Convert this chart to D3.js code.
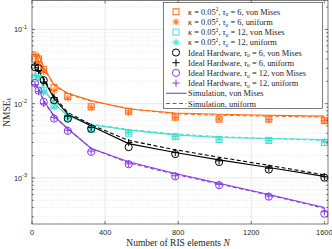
<!DOCTYPE html>
<html>
<head>
<meta charset="utf-8">
<script src="https://cdn.jsdelivr.net/npm/d3@7"></script>
<style>
  body { margin: 0; background: #fff; }
  svg { display: block; }
  .tick-label { font-family: "Liberation Sans", Arial, sans-serif; font-size: 7.4px; fill: #262626; }
  .serif { font-family: "Liberation Serif", "Times New Roman", serif; fill: #262626; }
</style>
</head>
<body>
<svg width="332" height="249"></svg>
<script>
// number of RIS elements
const N = [16, 36, 64, 121, 196, 324, 529, 784, 1024, 1296, 1600]

// analytical markers
const orangeVmMarks  = [0.040, 0.040, 0.029, 0.0166, 0.0125, 0.0091, 0.0079, 0.0066, 0.0062, 0.0062, 0.0059]
const orangeUniMarks = [0.046, 0.036, 0.027, 0.0150, 0.0119, 0.0089, 0.0077, 0.0065, 0.0062, 0.0061, 0.0059]
const cyanVmMarks    = [0.022, 0.0255, 0.0152, 0.0095, 0.0065, 0.0045, 0.0040, 0.0036, 0.0033, 0.0032, 0.0030]
const cyanUniMarks   = [0.024, 0.023, 0.0140, 0.0090, 0.0063, 0.0046, 0.0041, 0.0036, 0.0033, 0.0032, 0.0031]
const blackVmMarks   = [0.031, 0.030, 0.0207, 0.0111, 0.0063, 0.0046, 0.0026, 0.0021, 0.00164, 0.0013, 0.00101]
const blackUniMarks  = [0.033, 0.028, 0.0195, 0.0120, 0.0068, 0.0048, 0.0030, 0.0022, 0.0017, 0.00135, 0.00104]
const purpleVmMarks  = [0.019, 0.015, 0.0106, 0.0063, 0.0043, 0.00224, 0.00153, 0.00105, 0.0008, 0.00056, 0.00033]
const purpleUniMarks = [0.018, 0.0145, 0.0100, 0.0065, 0.0044, 0.0023, 0.00155, 0.00107, 0.00082, 0.00057, 0.00035]

// simulation curves
const orangeVmSim  = [0.036, 0.047, 0.031, 0.0180, 0.0138, 0.0110, 0.0085, 0.0075, 0.0072, 0.0070, 0.0068]
const orangeUniSim = [0.038, 0.045, 0.030, 0.0175, 0.0135, 0.0108, 0.0086, 0.0073, 0.0070, 0.0068, 0.0066]
const cyanVmSim    = [0.021, 0.025, 0.0160, 0.0100, 0.0068, 0.0052, 0.0044, 0.0038, 0.0035, 0.0034, 0.0033]
const cyanUniSim   = [0.022, 0.024, 0.0155, 0.0098, 0.0070, 0.0053, 0.0045, 0.0039, 0.0036, 0.0034, 0.0032]
const blackVmSim   = [0.029, 0.028, 0.021, 0.0118, 0.0072, 0.0050, 0.0029, 0.0022, 0.00175, 0.00138, 0.00105]
const blackUniSim  = [0.031, 0.030, 0.022, 0.0125, 0.0076, 0.0052, 0.0032, 0.0024, 0.0019, 0.00148, 0.00110]
const purpleVmSim  = [0.018, 0.016, 0.0110, 0.0068, 0.0046, 0.0025, 0.00165, 0.00115, 0.00085, 0.00060, 0.00040]
const purpleUniSim = [0.0185, 0.0158, 0.0108, 0.0067, 0.0046, 0.0025, 0.00160, 0.00112, 0.00083, 0.00059, 0.00039]

const xTicks = [0, 400, 800, 1200, 1600]
const yTicks = [1e-3, 1e-2, 1e-1]
const yTickExp = ["-3", "-2", "-1"]

const legendLabels = [
    ["κ", " = 0.05", "2", ", ", "τ", "u", " = 6, von Mises"],
    ["κ", " = 0.05", "2", ", ", "τ", "u", " = 6, uniform"],
    ["κ", " = 0.05", "2", ", ", "τ", "u", " = 12, von Mises"],
    ["κ", " = 0.05", "2", ", ", "τ", "u", " = 12, uniform"],
    ["", "Ideal Hardware", "", ", ", "τ", "u", " = 6, von Mises"],
    ["", "Ideal Hardware", "", ", ", "τ", "u", " = 6, uniform"],
    ["", "Ideal Hardware", "", ", ", "τ", "u", " = 12, von Mises"],
    ["", "Ideal Hardware", "", ", ", "τ", "u", " = 12, uniform"],
    ["", "Simulation, von Mises", "", "", "", "", ""],
    ["", "Simulation, uniform", "", "", "", "", ""]
]

const orange = "#ff6a13"
const cyan = "#40e0d0"
const black = "#000000"
const purple = "#8a3be6"

const svg = d3.select("svg")

const pLeft = 32, pRight = 328, pTop = 0.5, pBottom = 224

const x = d3.scaleLinear().domain([0, 1620]).range([pLeft, pRight])
const y = d3.scaleLog().domain([2.4e-4, 0.245]).range([pBottom, pTop])

// grid
const grid = svg.append("g")
const minor = []
for (let e = -4; e <= -1; e++) {
    for (let m = 2; m <= 9; m++) {
        const v = m * Math.pow(10, e)
        if (v > 2.4e-4 && v < 0.245) minor.push(v)
    }
}
grid.selectAll("line.minor")
    .data(minor)
    .enter()
    .append("line")
    .attr("x1", pLeft).attr("x2", pRight)
    .attr("y1", d => y(d)).attr("y2", d => y(d))
    .attr("stroke", "#d6d6d6")
    .attr("stroke-width", 0.6)
    .attr("stroke-dasharray", "1,1.5")

grid.selectAll("line.major")
    .data(yTicks)
    .enter()
    .append("line")
    .attr("x1", pLeft).attr("x2", pRight)
    .attr("y1", d => y(d)).attr("y2", d => y(d))
    .attr("stroke", "#e3e3e3")
    .attr("stroke-width", 0.8)

grid.selectAll("line.vx")
    .data(xTicks.slice(1, 4))
    .enter()
    .append("line")
    .attr("x1", d => x(d)).attr("x2", d => x(d))
    .attr("y1", pTop).attr("y2", pBottom)
    .attr("stroke", "#e3e3e3")
    .attr("stroke-width", 0.8)

// simulation lines
const line = d3.line()
    .x((d, i) => x(N[i]))
    .y(d => y(d))

const sims = [
    [orangeVmSim, orange, null], [orangeUniSim, orange, "4,2.5"],
    [cyanVmSim, cyan, null], [cyanUniSim, cyan, "4,2.5"],
    [blackVmSim, black, null], [blackUniSim, black, "4,2.5"],
    [purpleVmSim, purple, null], [purpleUniSim, purple, "4,2.5"]
]

sims.forEach(s => {
    svg.append("path")
        .datum(s[0])
        .attr("d", line)
        .attr("fill", "none")
        .attr("stroke", s[1])
        .attr("stroke-width", 1.1)
        .attr("stroke-dasharray", s[2])
})

// marker shapes
function marker(g, kind, color) {
    if (kind == "square") {
        g.append("rect").attr("x", -3).attr("y", -3).attr("width", 6).attr("height", 6)
            .attr("fill", "none").attr("stroke", color).attr("stroke-width", 1)
    } else if (kind == "circle") {
        g.append("circle").attr("r", 3.6)
            .attr("fill", "none").attr("stroke", color).attr("stroke-width", 1)
    } else if (kind == "plus") {
        g.append("path").attr("d", "M-3.6,0H3.6M0,-3.6V3.6")
            .attr("stroke", color).attr("stroke-width", 1)
    } else {
        g.append("path").attr("d", "M-3.6,0H3.6M0,-3.6V3.6M-2.6,-2.6L2.6,2.6M-2.6,2.6L2.6,-2.6")
            .attr("stroke", color).attr("stroke-width", 1)
    }
}

const markSets = [
    [orangeVmMarks, "square", orange], [orangeUniMarks, "star", orange],
    [cyanVmMarks, "square", cyan], [cyanUniMarks, "star", cyan],
    [blackVmMarks, "circle", black], [blackUniMarks, "plus", black],
    [purpleVmMarks, "circle", purple], [purpleUniMarks, "plus", purple]
]

markSets.forEach(m => {
    svg.append("g")
        .selectAll("g")
        .data(m[0])
        .enter()
        .append("g")
        .attr("transform", (d, i) => `translate(${x(N[i])},${y(d)})`)
        .each(function () { marker(d3.select(this), m[1], m[2]) })
})

// axes box and ticks
const axisColor = "#262626"
svg.append("rect")
    .attr("x", pLeft).attr("y", pTop)
    .attr("width", pRight - pLeft).attr("height", pBottom - pTop)
    .attr("fill", "none").attr("stroke", axisColor).attr("stroke-width", 0.6)

const ticks = svg.append("g").attr("stroke", axisColor).attr("stroke-width", 0.6)
xTicks.forEach(t => {
    ticks.append("line").attr("x1", x(t)).attr("x2", x(t)).attr("y1", pBottom).attr("y2", pBottom - 3)
    ticks.append("line").attr("x1", x(t)).attr("x2", x(t)).attr("y1", pTop).attr("y2", pTop + 3)
})
yTicks.forEach(t => {
    ticks.append("line").attr("x1", pLeft).attr("x2", pLeft + 3).attr("y1", y(t)).attr("y2", y(t))
    ticks.append("line").attr("x1", pRight).attr("x2", pRight - 3).attr("y1", y(t)).attr("y2", y(t))
})
minor.forEach(t => {
    ticks.append("line").attr("x1", pLeft).attr("x2", pLeft + 1.8).attr("y1", y(t)).attr("y2", y(t))
    ticks.append("line").attr("x1", pRight).attr("x2", pRight - 1.8).attr("y1", y(t)).attr("y2", y(t))
})

// tick labels
svg.selectAll("text.xt")
    .data(xTicks)
    .enter()
    .append("text")
    .attr("class", "tick-label")
    .attr("x", d => x(d))
    .attr("y", 235)
    .attr("text-anchor", "middle")
    .text(d => d)

const yl = svg.selectAll("text.yt")
    .data(yTicks)
    .enter()
    .append("text")
    .attr("class", "tick-label")
    .attr("x", 27)
    .attr("y", d => y(d) + 3)
    .attr("text-anchor", "end")
yl.append("tspan").text("10")
yl.append("tspan").attr("dy", -3.5).attr("font-size", "5.5px").text((d, i) => yTickExp[i])

// axis titles
const xl = svg.append("text")
    .attr("class", "serif")
    .attr("x", 178)
    .attr("y", 246)
    .attr("text-anchor", "middle")
    .attr("font-size", "9.5px")
xl.append("tspan").text("Number of RIS elements ")
xl.append("tspan").attr("font-style", "italic").text("N")

const ylab = svg.append("text")
    .attr("class", "serif")
    .attr("transform", `translate(9.5,${(pTop + pBottom) / 2}) rotate(-90)`)
    .attr("text-anchor", "middle")
    .attr("font-size", "9.5px")
ylab.append("tspan").text("NMSE")
ylab.append("tspan").attr("font-size", "6px").attr("font-style", "italic").attr("dy", 1.8).text("k")

// legend
const lg = svg.append("g")
lg.append("rect")
    .attr("x", 163.5).attr("y", 2.5)
    .attr("width", 159).attr("height", 106)
    .attr("fill", "#fff").attr("stroke", axisColor).attr("stroke-width", 0.6)

const legendMarks = markSets.map(m => [m[1], m[2]])
legendLabels.forEach((lab, i) => {
    const ry = 11.7 + i * 10.2
    if (i < 8) {
        const g = lg.append("g").attr("transform", `translate(176,${ry})`)
        marker(g, legendMarks[i][0], legendMarks[i][1])
    } else {
        lg.append("line")
            .attr("x1", 166).attr("x2", 186.5)
            .attr("y1", ry).attr("y2", ry)
            .attr("stroke", purple).attr("stroke-width", 1.1)
            .attr("stroke-dasharray", i == 9 ? "4,2.5" : null)
    }
    const t = lg.append("text")
        .attr("class", "serif")
        .attr("x", 188)
        .attr("y", ry + 3)
        .attr("font-size", "8.4px")
    if (lab[0]) t.append("tspan").attr("font-style", "italic").text(lab[0])
    t.append("tspan").text(lab[1])
    if (lab[2]) t.append("tspan").attr("dy", -3.3).attr("font-size", "5.6px").text(lab[2])
    if (lab[3]) t.append("tspan").attr("dy", lab[2] ? 3.3 : 0).text(lab[3])
    if (lab[4]) t.append("tspan").attr("font-style", "italic").text(lab[4])
    if (lab[5]) t.append("tspan").attr("dy", 1.6).attr("font-size", "5.6px").attr("font-style", "italic").text(lab[5])
    if (lab[6]) t.append("tspan").attr("dy", -1.6).text(lab[6])
})
</script>
</body>
</html>
